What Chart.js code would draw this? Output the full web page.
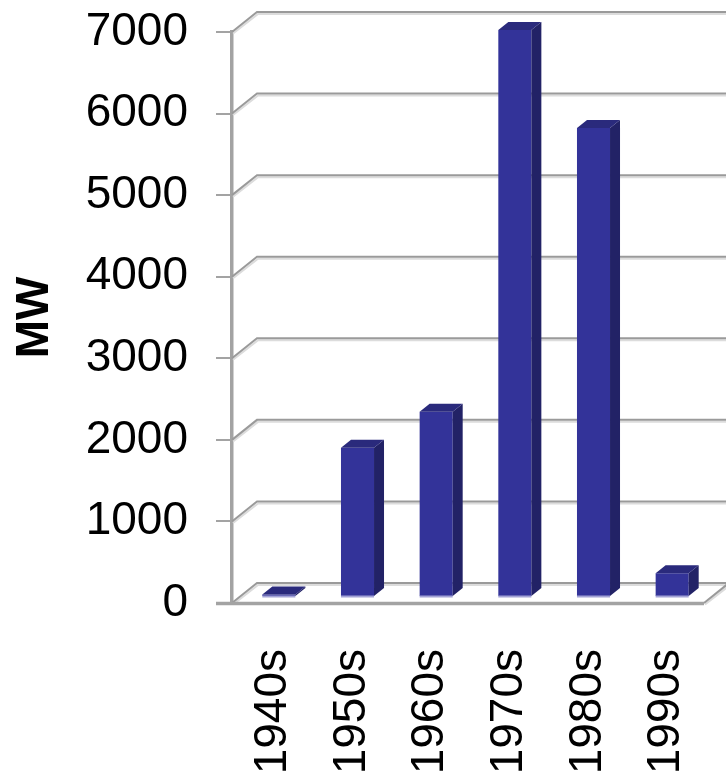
<!DOCTYPE html>
<html>
<head>
<meta charset="utf-8">
<script src="https://cdn.jsdelivr.net/npm/chart.js@4.4.1/dist/chart.umd.min.js"></script>
<style>
  html, body { margin: 0; padding: 0; background: #ffffff; }
  #wrap { width: 726px; height: 773px; }
</style>
</head>
<body>
<div id="wrap"><canvas id="chart"></canvas></div>
<script>
// Installed capacity added per decade (MW)
const decades = ['1940s', '1950s', '1960s', '1970s', '1980s', '1990s'];
const capacityMW = [30, 1830, 2270, 6950, 5750, 290];
const axisMin = 0;
const axisMax = 7000;
const axisStep = 1000;

// Pseudo-3D geometry: offset of the back wall from the front plane,
// and the depth band (fraction of full depth) occupied by the columns.
const DEPTH = { x: 25, y: 20 };
const BAR_NEAR = 0.3;
const BAR_FAR = 0.7;

const FRONT = '#333399';
const SIDE = '#222266';
const TOP = '#2a2a7c';
const WALL_LINE = '#9a9a9a';
const WALL_SHADE = '#dcdcdc';

const chartFont = '"Liberation Sans", Arial, Helvetica, sans-serif';

const wall3d = {
  id: 'wall3d',
  beforeDatasetsDraw(chart) {
    const { ctx, chartArea: a, scales: { y } } = chart;
    const y0 = y.getPixelForValue(0);
    ctx.save();
    ctx.lineCap = 'butt';
    // floor
    ctx.fillStyle = '#ffffff';
    ctx.beginPath();
    ctx.moveTo(a.left, y0);
    ctx.lineTo(a.right, y0);
    ctx.lineTo(a.right + DEPTH.x, y0 - DEPTH.y);
    ctx.lineTo(a.left + DEPTH.x, y0 - DEPTH.y);
    ctx.closePath();
    ctx.fill();

    // back-wall gridlines with the diagonals running back from the axis
    y.ticks.forEach(t => {
      const py = y.getPixelForValue(t.value);
      const by = py - DEPTH.y;
      // light shading under each line
      ctx.strokeStyle = WALL_SHADE;
      ctx.lineWidth = 2;
      ctx.beginPath();
      ctx.moveTo(a.left + 1, py + 1.5);
      ctx.lineTo(a.left + DEPTH.x + 1, by + 2);
      ctx.lineTo(chart.width + 5, by + 2);
      ctx.stroke();

      ctx.strokeStyle = WALL_LINE;
      ctx.lineWidth = 2;
      ctx.beginPath();
      ctx.moveTo(a.left, py);
      ctx.lineTo(a.left + DEPTH.x, by);
      ctx.lineTo(chart.width + 5, by);
      ctx.stroke();
    });

    // floor front and right edges
    ctx.strokeStyle = WALL_SHADE;
    ctx.lineWidth = 2;
    ctx.beginPath();
    ctx.moveTo(a.right + 1, y0 + 1.5);
    ctx.lineTo(a.right + DEPTH.x + 1, y0 - DEPTH.y + 2);
    ctx.stroke();
    ctx.strokeStyle = WALL_LINE;
    ctx.beginPath();
    ctx.moveTo(a.right, y0);
    ctx.lineTo(a.right + DEPTH.x, y0 - DEPTH.y);
    ctx.stroke();
    ctx.strokeStyle = '#a3a3a3';
    ctx.lineWidth = 3.5;
    ctx.beginPath();
    ctx.moveTo(a.left - 16, y0 + 0.5);
    ctx.lineTo(a.right, y0 + 0.5);
    ctx.stroke();
    ctx.restore();

    // columns sit part-way into the depth of the plot
    ctx.save();
    ctx.translate(DEPTH.x * BAR_NEAR, -DEPTH.y * BAR_NEAR);
  },
  afterDatasetsDraw(chart) {
    const { ctx } = chart;
    const dx = DEPTH.x * (BAR_FAR - BAR_NEAR);
    const dy = DEPTH.y * (BAR_FAR - BAR_NEAR);
    const meta = chart.getDatasetMeta(0);
    meta.data.forEach(el => {
      const { x, y, base, width } = el.getProps(['x', 'y', 'base', 'width'], true);
      const l = x - width / 2;
      const r = x + width / 2;
      // reflection line at the foot of the front face
      ctx.fillStyle = '#a3a3d6';
      ctx.fillRect(l, base - 0.5, width, 2);
      // side face
      ctx.fillStyle = SIDE;
      ctx.beginPath();
      ctx.moveTo(r, y);
      ctx.lineTo(r + dx, y - dy);
      ctx.lineTo(r + dx, base - dy);
      ctx.lineTo(r, base);
      ctx.closePath();
      ctx.fill();
      // top face
      ctx.fillStyle = TOP;
      ctx.beginPath();
      ctx.moveTo(l, y);
      ctx.lineTo(l + dx, y - dy);
      ctx.lineTo(r + dx, y - dy);
      ctx.lineTo(r, y);
      ctx.closePath();
      ctx.fill();
    });
    ctx.restore();
  }
};

new Chart(document.getElementById('chart'), {
  type: 'bar',
  data: {
    labels: decades,
    datasets: [{
      data: capacityMW,
      backgroundColor: FRONT,
      borderWidth: 0,
      categoryPercentage: 1.0,
      barPercentage: 0.42,
      clip: false
    }]
  },
  options: {
    responsive: true,
    maintainAspectRatio: false,
    animation: false,
    layout: { padding: { top: 32, right: 22, left: 0, bottom: 0 } },
    plugins: {
      legend: { display: false },
      tooltip: { enabled: false }
    },
    scales: {
      x: {
        grid: { display: false, drawTicks: false },
        border: { display: false },
        ticks: {
          minRotation: 90,
          maxRotation: 90,
          autoSkip: false,
          padding: 46,
          labelOffset: 2,
          color: '#000000',
          font: { family: chartFont, size: 46 }
        },
        afterFit(scale) {
          scale.height = 170;
          scale.paddingLeft = 0;
          scale.paddingRight = 0;
        }
      },
      y: {
        min: axisMin,
        max: axisMax,
        grid: {
          drawOnChartArea: false,
          drawTicks: true,
          tickLength: 16,
          color: '#a3a3a3',
          lineWidth: 2
        },
        border: { display: true, color: '#a3a3a3', width: 3.5 },
        ticks: {
          stepSize: axisStep,
          padding: 28,
          color: '#000000',
          font: { family: chartFont, size: 46 },
          callback: v => String(v)
        },
        title: {
          display: true,
          text: 'MW',
          color: '#000000',
          padding: { top: 8, bottom: 0 },
          font: { family: chartFont, size: 46, weight: 'bold' }
        },
        afterFit(scale) {
          scale.width = 232;
          scale.paddingTop = 0;
          scale.paddingBottom = 0;
        }
      }
    }
  },
  plugins: [wall3d]
});
</script>
</body>
</html>
